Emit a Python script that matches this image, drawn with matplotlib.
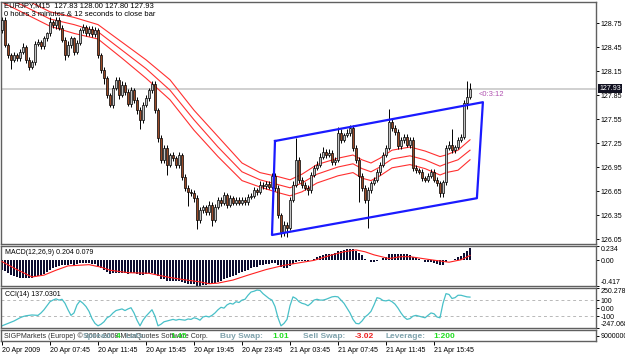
import numpy as np
import matplotlib
matplotlib.use("Agg")
import matplotlib.pyplot as plt

plt.rcParams['font.family'] = ['Liberation Sans', 'DejaVu Sans']

# ---------------- data ----------------
first_open = 128.66
closes = [128.79,128.48,128.35,128.29,128.35,128.31,128.39,128.45,128.29,128.20,
          128.26,128.49,128.51,128.46,128.56,128.62,128.76,128.72,128.79,128.69,
          128.54,128.35,128.48,128.56,128.39,128.50,128.66,128.70,128.62,128.68,
          128.61,128.66,128.35,128.16,128.06,127.85,127.73,127.94,128.04,127.85,
          127.98,127.89,127.74,127.91,127.79,127.66,127.54,127.73,127.81,127.91,
          127.99,127.66,127.31,127.04,127.19,126.98,127.10,127.06,126.98,127.10,
          126.83,126.69,126.64,126.63,126.56,126.29,126.41,126.45,126.39,126.48,
          126.29,126.45,126.54,126.50,126.60,126.48,126.56,126.50,126.54,126.50,
          126.54,126.51,126.58,126.59,126.66,126.64,126.73,126.71,126.74,126.70,
          126.84,126.69,126.35,126.14,126.23,126.19,126.54,126.73,127.04,126.79,
          126.73,126.69,126.66,126.85,126.94,126.98,127.08,127.14,127.10,127.13,
          127.01,127.04,127.38,127.29,127.35,127.38,127.44,127.19,127.04,126.84,
          126.69,126.54,126.66,126.75,126.79,126.89,126.98,127.10,127.19,127.51,
          127.44,127.39,127.21,127.29,127.33,127.23,127.29,126.94,126.91,126.89,
          126.81,126.79,126.84,126.89,126.79,126.75,126.63,126.76,127.19,127.23,
          127.16,127.20,127.29,127.33,127.75,127.83,127.93]
wick_up_pips = [4,3,2,3,4,3,3,5,2,3, 3,3,4,3,3,2,6,3,4,3, 3,3,4,3,2,4,3,4,3,3,
                3,4,3,3,4,3,3,4,4,3, 4,3,3,4,3,3,4,3,4,3, 3,4,3,4,3,4,3,4,3,4,
                3,3,4,3,3,4,4,3,3,4, 3,4,4,3,4,3,4,3,3,3, 3,3,3,3,4,3,4,3,3,3,
                4,3,3,3,4,3,4,4,27,4, 3,3,3,4,3,4,4,6,3,4, 3,4,7,4,3,4,4,4,3,3,
                3,3,4,3,4,3,3,4,4,17, 4,3,3,4,3,3,4,3,3,3, 3,3,3,4,3,3,3,3,4,4,
                19,3,3,3,4,19,7]
wick_dn_pips = [4,3,4,12,3,4,3,3,4,4, 3,4,3,4,3,4,3,3,4,3, 3,6,3,4,4,3,3,4,3,3,
                3,3,4,4,7,4,3,4,3,5, 3,4,3,4,4,5,12,4,3,4, 3,4,5,4,4,13,3,4,4,4,
                4,4,18,4,5,12,4,3,4,4, 8,3,3,4,3,4,3,3,3,3, 3,3,3,3,3,4,3,3,3,3,
                3,4,4,6,5,11,3,3,3,4, 4,3,6,3,3,3,3,3,4,3, 3,4,3,4,3,3,4,4,4,33,
                4,4,35,3,3,3,4,3,3,3, 4,4,4,3,4,3,4,4,4,3, 3,3,3,3,3,4,6,6,3,3,
                3,3,3,3,3,8,3]

ma_idx = [0, 8, 16, 24, 32, 40, 48, 56, 64, 72, 80, 86, 92, 96, 100, 105, 112,
          117, 120, 123, 126, 130, 136, 141, 146, 148, 152, 156]
ma_upper = [129.19,129.04,128.89,128.82,128.73,128.51,128.29,128.04,127.66,127.33,
            127.00,126.88,126.83,126.79,126.86,126.98,127.06,127.10,127.04,127.00,
            127.06,127.16,127.20,127.15,127.08,127.10,127.16,127.29]
ma_mid = [129.10,128.95,128.80,128.73,128.64,128.41,128.18,127.91,127.54,127.20,
          126.89,126.79,126.73,126.69,126.75,126.86,126.95,126.99,126.93,126.89,
          126.95,127.05,127.09,127.04,126.96,126.99,127.04,127.16]
ma_lower = [129.01,128.86,128.71,128.62,128.55,128.31,128.06,127.79,127.41,127.08,
            126.78,126.70,126.63,126.59,126.64,126.75,126.84,126.88,126.81,126.78,
            126.84,126.94,126.98,126.93,126.85,126.88,126.91,127.04]

channel_x = [91, 160.3, 158.3, 90, 91]
channel_y = [127.275, 127.76, 126.56, 126.10, 127.275]

macd = [-0.15,-0.18,-0.21,-0.24,-0.26,-0.27,-0.28,-0.28,-0.29,-0.29,
        -0.28,-0.27,-0.26,-0.24,-0.22,-0.19,-0.16,-0.13,-0.11,-0.09,
        -0.08,-0.08,-0.07,-0.06,-0.07,-0.06,-0.05,-0.05,-0.05,-0.05,
        -0.06,-0.06,-0.09,-0.13,-0.16,-0.19,-0.22,-0.21,-0.20,-0.21,
        -0.21,-0.21,-0.22,-0.21,-0.21,-0.22,-0.24,-0.23,-0.22,-0.21,
        -0.20,-0.22,-0.26,-0.30,-0.31,-0.33,-0.33,-0.33,-0.34,-0.33,
        -0.35,-0.37,-0.38,-0.39,-0.39,-0.41,-0.41,-0.40,-0.40,-0.39,
        -0.39,-0.37,-0.35,-0.33,-0.31,-0.29,-0.27,-0.25,-0.23,-0.21,
        -0.19,-0.17,-0.15,-0.13,-0.11,-0.10,-0.08,-0.07,-0.06,-0.06,
        -0.04,-0.05,-0.08,-0.11,-0.12,-0.12,-0.09,-0.06,-0.02,-0.01,
        -0.01,-0.01,-0.01,0.01,0.03,0.05,0.07,0.09,0.10,0.11,
        0.11,0.12,0.15,0.16,0.17,0.18,0.19,0.18,0.16,0.12,
        0.08,0.03,0.00,-0.02,-0.02,-0.01,0.01,0.04,0.06,0.10,
        0.11,0.11,0.10,0.10,0.10,0.10,0.09,0.06,0.04,0.02,
        0.00,-0.02,-0.03,-0.03,-0.05,-0.06,-0.08,-0.07,-0.03,0.00,
        0.01,0.03,0.05,0.07,0.12,0.16,0.204]
sig_idx = [0, 5, 10, 14, 18, 22, 29, 33, 36, 42, 49, 55, 60, 66, 69, 72, 77, 82,
           88, 94, 99, 104, 110, 114, 118, 121, 124, 129, 133, 136, 143, 149, 153, 156]
signal = [-0.02,-0.15,-0.27,-0.24,-0.16,-0.09,-0.07,-0.11,-0.16,-0.20,-0.21,-0.27,
          -0.31,-0.35,-0.38,-0.37,-0.32,-0.24,-0.15,-0.08,-0.04,0.00,0.09,0.14,
          0.17,0.14,0.09,0.03,0.06,0.06,0.01,-0.03,0.01,0.079]

cci = [-220,-205,-190,-175,-160,-140,-120,-105,-95,-90,
       -85,-88,-90,-60,-20,30,80,100,115,100,
       110,60,-20,-90,-60,40,90,60,20,-40,
       -130,-190,-220,-200,-170,-120,-100,-60,-30,-20,
       -10,-30,-10,5,-60,-150,-220,-150,-100,-60,
       -20,-100,-220,-200,-170,-160,-150,-140,-150,-140,
       -145,-150,-135,-140,-120,-130,-150,-110,-100,-110,
       -90,-60,-20,10,0,40,60,50,80,70,
       100,110,160,200,210,225,220,180,150,120,
       100,20,-120,-220,-190,-140,30,140,120,80,
       60,50,30,60,100,110,100,100,110,125,
       140,145,140,100,60,0,-60,-140,-190,-195,
       -160,-110,-80,-40,40,130,120,95,90,100,
       80,50,0,-60,-110,-140,-130,-100,-90,-100,
       -110,-120,-90,-60,-70,-110,-120,60,180,170,
       120,130,160,160,150,140,137.0301]

tick_idx = [0, 16, 32, 48, 64, 80, 96, 112, 128, 144]
tick_labels = ["20 Apr 2009", "20 Apr 07:45", "20 Apr 11:45", "20 Apr 15:45",
               "20 Apr 19:45", "20 Apr 23:45", "21 Apr 03:45", "21 Apr 07:45",
               "21 Apr 11:45", "21 Apr 15:45"]
price_ticks = [126.05, 126.35, 126.65, 126.95, 127.25, 127.55, 127.85, 128.15, 128.45, 128.75]
last_price = 127.93

# ---------------- layout ----------------
W, H = 625, 355
fig = plt.figure(figsize=(W / 100, H / 100), dpi=100)
fig.patch.set_facecolor('white')

def rect(x0, y0, x1, y1):
    return [x0 / W, 1 - y1 / H, (x1 - x0) / W, (y1 - y0) / H]

def fpos(x, y):
    return x / W, 1 - y / H

ax = fig.add_axes(rect(1, 2, 596, 244))
axm = fig.add_axes(rect(1, 246, 596, 286))
axc = fig.add_axes(rect(1, 288, 596, 328))
axi = fig.add_axes(rect(1, 330, 596, 341))

n = len(closes)
idx = np.arange(n)
xlim = (-1 / 3, 198)
FS = 5.0

for a in (ax, axm, axc, axi):
    a.set_xlim(*xlim)
    a.set_facecolor('white')
    for s in a.spines.values():
        s.set_color('#606060')
        s.set_linewidth(1.0)
    a.set_xticks([])
    a.tick_params(axis='y', which='both', left=False, right=True, labelleft=False,
                  labelright=True, labelsize=FS, length=2.5, pad=1, width=0.7)

# ---------------- main price panel ----------------
c = np.array(closes)
o = np.concatenate([[first_open], c[:-1]])
hi = np.maximum(o, c) + np.array(wick_up_pips) / 100.0
lo = np.minimum(o, c) - np.array(wick_dn_pips) / 100.0

ax.axhline(last_price, color='#c8c8c8', lw=1.2, zorder=0)
ax.plot(ma_idx, ma_upper, color='#ff3030', lw=0.8, zorder=1)
ax.plot(ma_idx, ma_mid, color='#ff3030', lw=0.8, zorder=1)
ax.plot(ma_idx, ma_lower, color='#ff3030', lw=0.8, zorder=1)

ax.vlines(idx, lo, hi, color='black', lw=0.7, zorder=2)
bull = c >= o
body_h = np.maximum(np.abs(c - o), 0.004)
ax.bar(idx[bull], body_h[bull], bottom=np.minimum(o, c)[bull], width=0.62,
       color='#c4c4c4', edgecolor='black', linewidth=0.5, zorder=3)
ax.bar(idx[~bull], body_h[~bull], bottom=np.minimum(o, c)[~bull], width=0.62,
       color='#9a4a28', edgecolor='black', linewidth=0.5, zorder=3)

ax.plot(channel_x, channel_y, color='#1a1aff', lw=1.6, zorder=4)

ax.set_ylim(125.9875, 129.0125)
ax.set_yticks(price_ticks)
ax.set_yticklabels([f"{v:.2f}" for v in price_ticks])

ax.text(1.0 + 3 / 595, last_price, f"{last_price:.2f}", transform=ax.get_yaxis_transform(),
        fontsize=FS, color='white', va='center', ha='left', zorder=10,
        bbox=dict(boxstyle='square,pad=0.15', fc='#101020', ec='none'), clip_on=False)
ax.text(159, 127.86, "<0:3:12", fontsize=FS + 0.5, color='#b050b0', va='center', ha='left')

fig.text(*fpos(4, 6), "EURJPY,M15  127.83 128.00 127.80 127.93", fontsize=5.5,
         va='center', ha='left', color='black')
fig.text(*fpos(4, 15), "0 hours 3 minutes & 12 seconds to close bar", fontsize=5.5,
         va='center', ha='left', color='black')

# ---------------- MACD ----------------
axm.set_ylim(-0.417, 0.234)
axm.bar(idx, macd, width=0.62, color='#0c0c30', zorder=2)
axm.plot(sig_idx, signal, color='#ff2020', lw=0.8, zorder=3)
axm.set_yticks([0.234, 0.0, -0.417])
axm.set_yticklabels(["0.234", "0.00", "-0.417"])
labs = axm.get_yticklabels()
labs[0].set_va('top'); labs[2].set_va('bottom')
axm.text(4 / 595, 0.84, "MACD(12,26,9) 0.204 0.079", transform=axm.transAxes,
         fontsize=FS, va='center', ha='left')

# ---------------- CCI ----------------
axc.set_ylim(-247.068, 250.278)
for lvl in (100, -100):
    axc.axhline(lvl, color='#b8b8b8', lw=0.7, ls=(0, (3, 3)), zorder=1)
axc.plot(idx, cci, color='#48c0c8', lw=0.9, zorder=2)
axc.set_yticks([250.278, 100, 0, -100, -247.068])
axc.set_yticklabels(["250.278", "100", "0.00", "-100", "-247.068"])
labs = axc.get_yticklabels()
labs[0].set_va('top'); labs[4].set_va('bottom')
axc.text(4 / 595, 0.83, "CCI(14) 137.0301", transform=axc.transAxes,
         fontsize=FS, va='center', ha='left')

# ---------------- info panel / time axis ----------------
axi.set_ylim(0, 1)
axi.set_yticks([0.5])
axi.set_yticklabels(["9000000"])
axi.set_xticks(tick_idx)
axi.set_xticklabels(tick_labels)
axi.tick_params(axis='x', direction='out', length=3, pad=1.5, labelsize=FS, width=0.7)
for lbl in axi.get_xticklabels():
    lbl.set_ha('left')

fig.text(*fpos(4, 336), "SIGPMarkets (Europe) © 2001-2008 MetaQuotes Software Corp.",
         fontsize=FS, color='#303030', va='center', ha='left')
lab_col = '#7ea2ac'
items = [(83, "Spread:", lab_col), (116, "4", '#22dd22'), (126, "Lots:", lab_col),
         (170, "1.45", '#22dd22'), (220, "Buy Swap:", lab_col), (272, "1.01", '#22dd22'),
         (303, "Sell Swap:", lab_col), (355, "-3.02", '#ee2222'),
         (386, "Leverage:", lab_col), (433, "1:200", '#22dd22')]
for xp, t, col in items:
    fig.text(*fpos(xp, 336), t, fontsize=6, fontweight='bold', color=col,
             va='center', ha='left')

fig.savefig("out.png", dpi=100)
